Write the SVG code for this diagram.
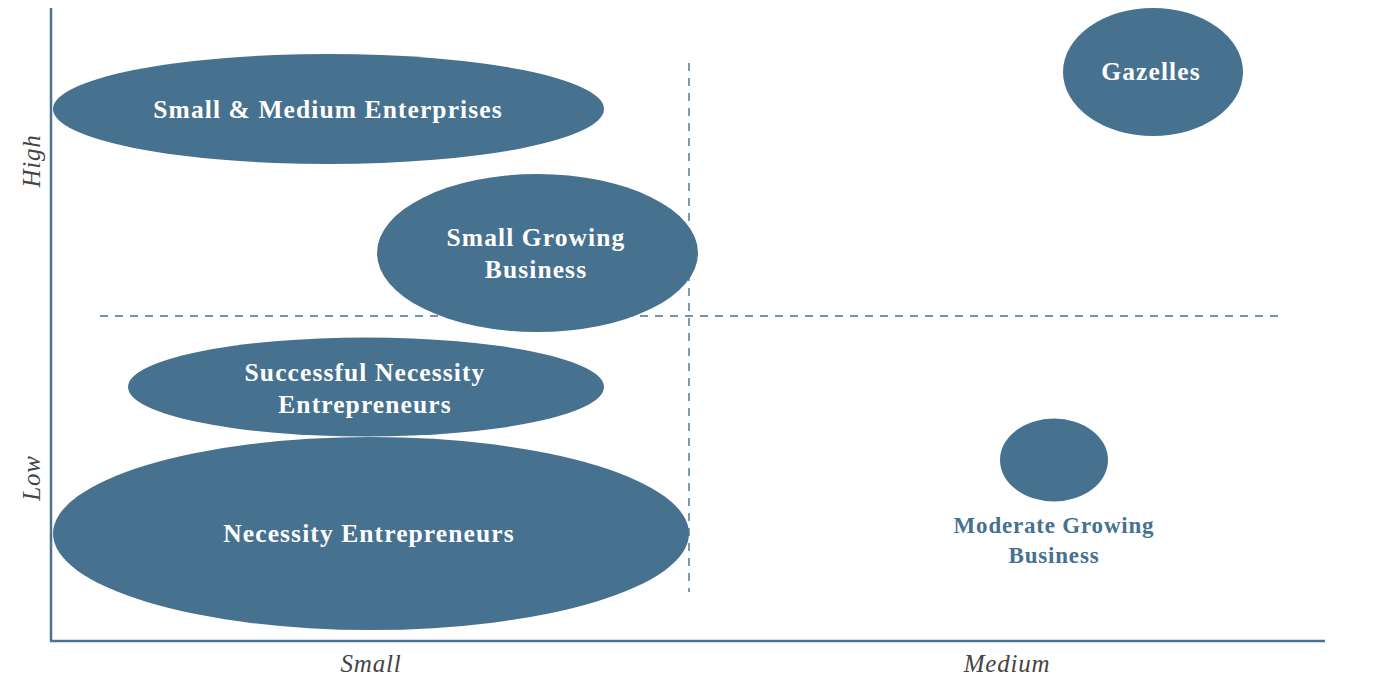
<svg xmlns="http://www.w3.org/2000/svg" width="1381" height="675" viewBox="0 0 1381 675">
  <style>
    .bubble { fill: #46718f; }
    .lbl { font-family: "Liberation Serif", "DejaVu Serif", serif; font-weight: bold; font-size: 25.5px; letter-spacing: 1.1px; fill: #ffffff; text-anchor: middle; dominant-baseline: central; }
    .lbl-out { font-family: "Liberation Serif", "DejaVu Serif", serif; font-weight: bold; font-size: 23px; letter-spacing: 0.8px; fill: #46718f; text-anchor: middle; dominant-baseline: central; }
    .axis { stroke: #4a7393; stroke-width: 2.5; fill: none; }
    .divider { stroke: #46718f; stroke-width: 1.4; stroke-dasharray: 8 7; fill: none; }
    .ax-lbl { font-family: "Liberation Serif", "DejaVu Serif", serif; font-style: italic; font-size: 25px; letter-spacing: 0.8px; fill: #444444; text-anchor: middle; dominant-baseline: central; }
  </style>
  <rect width="1381" height="675" fill="#ffffff"/>

  <!-- quadrant dividers -->
  <g id="connectors">
    <line class="divider" x1="100" y1="316" x2="1280" y2="316"/>
  </g>

  <g id="sme">
    <ellipse class="bubble" cx="328.5" cy="109" rx="275.5" ry="55"/>
    <text class="lbl" x="328" y="109">Small &amp; Medium Enterprises</text>
  </g>

  <g id="small-growing">
    <ellipse class="bubble" cx="537.5" cy="253" rx="160.5" ry="79"/>
    <text class="lbl" x="536" y="237">Small Growing</text>
    <text class="lbl" x="536" y="269">Business</text>
  </g>

  <g id="successful-necessity">
    <ellipse class="bubble" cx="366" cy="387" rx="238" ry="49.5"/>
    <text class="lbl" x="365" y="372">Successful Necessity</text>
    <text class="lbl" x="365" y="404">Entrepreneurs</text>
  </g>

  <g id="necessity">
    <ellipse class="bubble" cx="371" cy="533.5" rx="318" ry="96.5"/>
    <text class="lbl" x="369" y="533">Necessity Entrepreneurs</text>
  </g>

  <g id="gazelles">
    <ellipse class="bubble" cx="1153" cy="72" rx="90" ry="64"/>
    <text class="lbl" x="1151" y="71">Gazelles</text>
  </g>

  <g id="moderate-growing">
    <ellipse class="bubble" cx="1054" cy="460" rx="54" ry="41.5"/>
    <text class="lbl-out" x="1054" y="525">Moderate Growing</text>
    <text class="lbl-out" x="1054" y="555">Business</text>
  </g>

  <g id="vertical-divider">
    <line class="divider" x1="689" y1="63" x2="689" y2="592"/>
  </g>

  <!-- axes -->
  <g id="axes">
    <line class="axis" x1="51" y1="8" x2="51" y2="641"/>
    <line class="axis" x1="50" y1="641" x2="1325" y2="641"/>
    <text class="ax-lbl" transform="translate(31 161) rotate(-90)">High</text>
    <text class="ax-lbl" transform="translate(31 478) rotate(-90)">Low</text>
    <text class="ax-lbl" x="371" y="663">Small</text>
    <text class="ax-lbl" x="1007" y="663">Medium</text>
  </g>
</svg>
